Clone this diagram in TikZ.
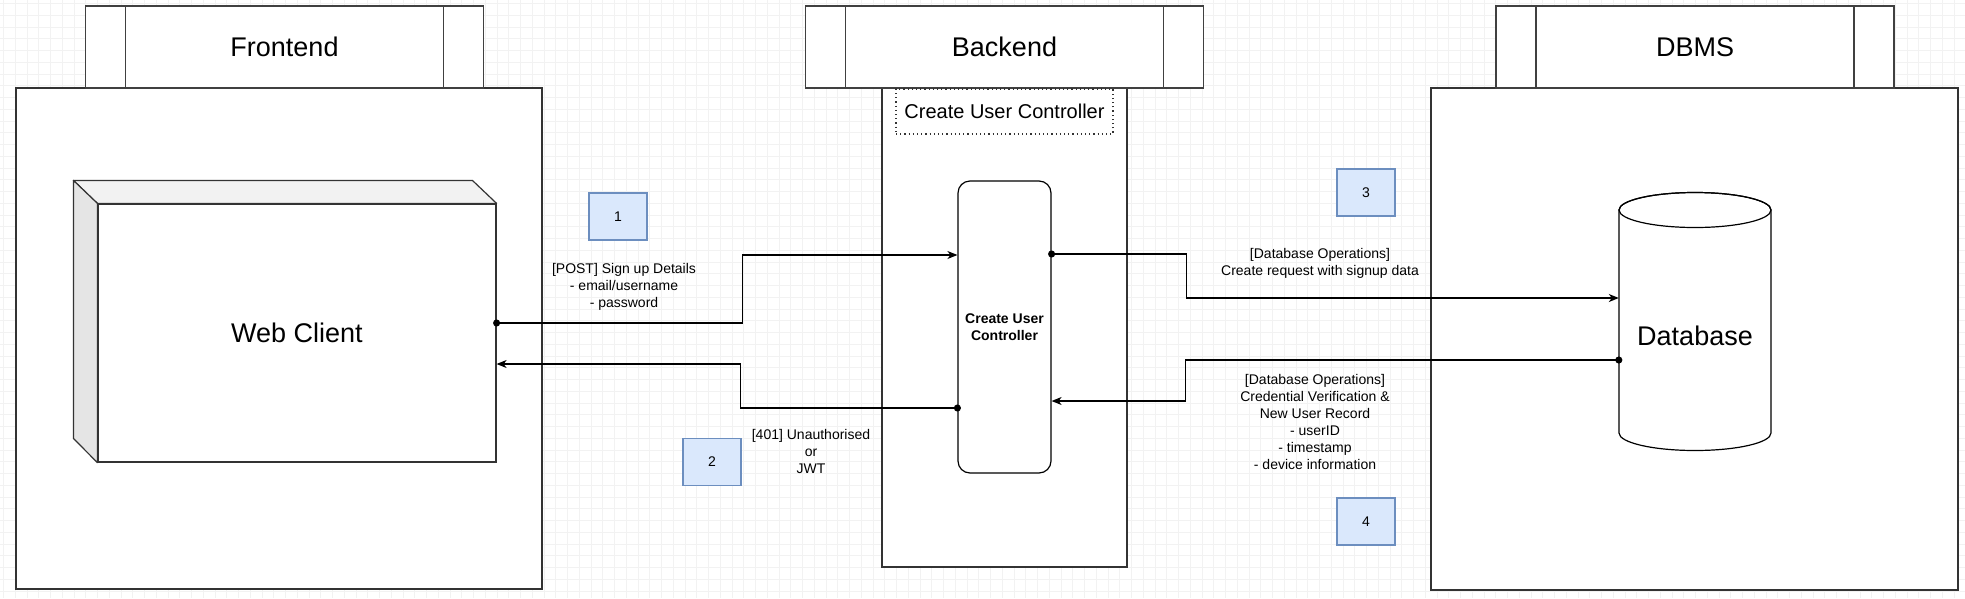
\documentclass[tikz,border=0pt]{standalone}
\usepackage{fontspec}
\setmainfont{Liberation Sans}
\usetikzlibrary{positioning,calc,arrows.meta}
\definecolor{numfill}{HTML}{DAE8FC}
\definecolor{numdraw}{HTML}{6C8EBF}
\tikzset{
>={Stealth[length=10pt,width=8pt,inset=3pt]},
  lanehead/.style={
    rectangle,
    draw=black!75, line width=1.3pt,
    fill=white,
    minimum width=398, minimum height=82,
    font=\fontsize{27}{32}\selectfont,
    path picture={
      \draw[black!75, line width=1.3pt]
        ([xshift=40pt]path picture bounding box.north west) -- ([xshift=40pt]path picture bounding box.south west)
        ([xshift=-40pt]path picture bounding box.north east) -- ([xshift=-40pt]path picture bounding box.south east);}},
  lanebox/.style={
    rectangle,
    draw=black!80, line width=1.2pt,
    fill=white},
  numbox/.style={
    rectangle,
    draw=numdraw, line width=1.2pt,
    fill=numfill,
    minimum width=58, minimum height=47,
    font=\fontsize{14}{17}\selectfont},
  msg/.style={align=center, inner sep=0pt, font=\fontsize{14}{17}\selectfont},
  flow/.style={draw, line width=1.2pt, {Circle[length=7pt]}->, shorten <=-3.5pt},
  gridline/.style={draw=black!5, line width=0.6pt},
}

\begin{document}
\begin{tikzpicture}[x=1pt,y=-1pt]
\useasboundingbox (0,0) rectangle (1965,598);
\fill[white] (0,0) rectangle (1965,598);
\foreach \gx in {0,...,167} \draw[gridline] (3.3+\gx*11.75,0) -- ++(0,598);
\foreach \gy in {0,...,50} \draw[gridline] (0,3.3+\gy*11.75) -- ++(1965,0);

    % swimlanes
    \node[lanebox, minimum width=526, minimum height=501](front) at (279,338.5){};
    \node[lanehead, above=-1.2pt of front.north, xshift=5.5pt](fronthead){Frontend};
    \node[lanebox, minimum width=245, minimum height=479](back) at (1004.5,327.5){};
    \node[lanehead, above=-1.2pt of back.north](backhead){Backend};
    \node[lanebox, minimum width=527, minimum height=502](dbms) at (1694.5,339){};
    \node[lanehead, above=-1.2pt of dbms.north, xshift=0.5pt](dbmshead){DBMS};

    \node[rectangle, draw=black!80, line width=1.2pt, dash pattern=on 1.2pt off 3pt,
          minimum width=217, minimum height=45, font=\fontsize{20}{24}\selectfont](ctrltitle) at (1004.5,111.5){Create User Controller};

    % web client cube
    \node[draw=black!80, line width=1.2pt, fill=white, minimum width=398, minimum height=258,
          font=\fontsize{27}{32}\selectfont](web) at (297,333){Web Client};
    \filldraw[draw=black!80, line width=1.2pt, fill=black!5, line join=round]
        (web.north west) -- ++(-24,-23) -- ++(399,0) -- (web.north east) -- cycle;
    \filldraw[draw=black!80, line width=1.2pt, fill=black!10, line join=round]
        (web.north west) -- ++(-24,-23) -- ++(0,258) -- (web.south west) -- cycle;

    \node[draw, line width=1.2pt, rounded corners=12pt, minimum width=93, minimum height=292,
          align=center, font=\bfseries\fontsize{14}{17}\selectfont](ctrl) at (1004.5,327){Create User\\Controller};

    % database cylinder
    \filldraw[draw=black, line width=1.2pt, fill=white]
        (1619,210) -- (1619,433) arc[start angle=180, end angle=0, x radius=76, y radius=17.5]
        -- (1771,210) arc[start angle=0, end angle=-180, x radius=76, y radius=17.5] -- cycle;
    \draw[line width=1.2pt] (1695,210) ellipse [x radius=76, y radius=17.5];
    \node[minimum width=152, inner sep=0pt, font=\fontsize{27}{32}\selectfont](db) at (1695,336){Database};

    % step numbers
    \node[numbox](n1) at (618,216.5){1};
    \node[numbox](n2) at (712,462){2};
    \node[numbox](n3) at (1366,192.5){3};
    \node[numbox](n4) at (1366,521.5){4};

    \node[msg](m1) at (624,287){[POST] Sign up Details\\- email/username\\- password};
    \node[msg](m2) at (811,451){[401] Unauthorised\\or\\JWT};
    \node[msg](m3) at (1320,263){[Database Operations]\\Create request with signup data};
    \node[msg](m4) at (1315,421.5){[Database Operations]\\Credential Verification \&\\New User Record\\- userID\\- timestamp\\- device information};

    \draw[flow] ([yshift=10pt]web.east) -- ++(246,0) |- ([yshift=72pt]ctrl.west);
    \draw[flow] ([yshift=-81pt]ctrl.west) -- ++(-217,0) |- ([yshift=-31pt]web.east);
    \draw[flow] ([yshift=73pt]ctrl.east) -- ++(135,0) |- ([yshift=38pt]db.west);
    \draw[flow] ([yshift=-24pt]db.west) -- ++(-433,0) |- ([yshift=-74pt]ctrl.east);

\end{tikzpicture}
\end{document}
